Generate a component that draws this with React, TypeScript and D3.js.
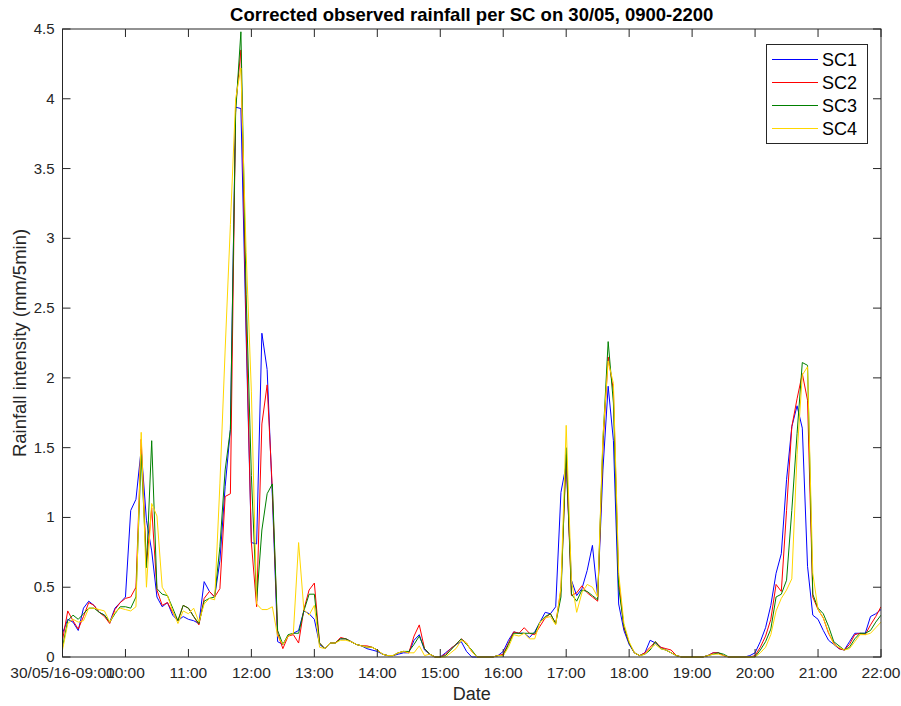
import React from "react";
import * as d3 from "d3";

const seriesNames = ["SC1", "SC2", "SC3", "SC4"];
const seriesColors = ["#0000ff", "#ff0000", "#008000", "#ffd700"];

const sc1 = [0.17,0.27,0.25,0.19,0.35,0.40,0.37,0.32,0.30,0.25,0.35,0.39,0.43,1.05,1.13,1.49,0.98,0.76,0.43,0.36,0.39,0.30,0.26,0.29,0.27,0.26,0.24,0.54,0.47,0.43,0.69,1.22,1.63,3.94,3.93,2.3,0.82,0.81,2.32,2.06,1.15,0.11,0.09,0.15,0.17,0.19,0.33,0.31,0.27,0.09,0.06,0.10,0.10,0.13,0.13,0.11,0.09,0.08,0.06,0.05,0.04,0.02,0.01,0.01,0.02,0.03,0.03,0.12,0.16,0.05,0.02,0,0,0.03,0.06,0.09,0.11,0.04,0,0,0,0,0,0.01,0.04,0.12,0.18,0.17,0.17,0.14,0.18,0.25,0.32,0.31,0.36,1.18,1.38,0.55,0.44,0.49,0.62,0.80,0.43,1.34,1.94,1.55,0.38,0.19,0.09,0.03,0.01,0.03,0.12,0.10,0.07,0.05,0.03,0.01,0,0,0,0,0,0.01,0.03,0.03,0.01,0,0,0,0,0.01,0.03,0.11,0.21,0.37,0.60,0.74,1.27,1.65,1.80,1.64,0.65,0.30,0.27,0.19,0.12,0.09,0.06,0.05,0.11,0.17,0.17,0.17,0.29,0.31,0.34];
const sc2 = [0.12,0.33,0.26,0.20,0.29,0.39,0.37,0.32,0.29,0.24,0.34,0.39,0.42,0.43,0.50,1.56,0.66,1.07,0.48,0.37,0.39,0.32,0.26,0.37,0.35,0.29,0.23,0.42,0.47,0.43,0.49,1.15,1.17,3.95,4.35,2.4,0.82,0.36,1.67,1.95,1.20,0.17,0.06,0.15,0.16,0.10,0.34,0.48,0.53,0.10,0.06,0.10,0.10,0.14,0.13,0.11,0.09,0.08,0.08,0.07,0.05,0.02,0.01,0.01,0.03,0.04,0.03,0.15,0.23,0.06,0.02,0,0,0.02,0.06,0.09,0.13,0.10,0.04,0,0,0,0,0.01,0.02,0.10,0.18,0.17,0.21,0.17,0.16,0.22,0.28,0.31,0.24,0.48,1.45,0.44,0.46,0.51,0.46,0.43,0.40,1.51,2.15,1.91,0.55,0.21,0.10,0.03,0.01,0.03,0.07,0.11,0.07,0.06,0.05,0.01,0,0,0,0,0,0.01,0.03,0.03,0.01,0,0,0,0,0,0.01,0.07,0.15,0.27,0.52,0.47,1.05,1.65,1.85,2.03,1.84,0.43,0.34,0.28,0.17,0.10,0.06,0.05,0.09,0.16,0.17,0.16,0.23,0.29,0.36];
const sc3 = [0.07,0.26,0.30,0.27,0.31,0.35,0.35,0.32,0.30,0.25,0.31,0.36,0.36,0.35,0.43,1.45,0.64,1.55,0.49,0.45,0.44,0.35,0.26,0.37,0.35,0.29,0.24,0.40,0.42,0.43,0.79,1.34,1.63,3.9,4.48,2.6,1.3,0.40,0.91,1.17,1.24,0.19,0.09,0.16,0.17,0.17,0.33,0.45,0.45,0.10,0.06,0.10,0.10,0.13,0.13,0.11,0.09,0.08,0.07,0.07,0.05,0.02,0.01,0.01,0.03,0.04,0.04,0.09,0.15,0.06,0.02,0,0,0.01,0.05,0.09,0.13,0.09,0.05,0,0,0,0,0.01,0.01,0.09,0.17,0.17,0.17,0.17,0.17,0.25,0.29,0.31,0.24,0.43,1.50,0.45,0.40,0.48,0.47,0.44,0.41,1.55,2.26,1.82,0.50,0.22,0.10,0.03,0.01,0.02,0.05,0.11,0.06,0.05,0.03,0.01,0,0,0,0,0,0.01,0.02,0.03,0.02,0,0,0,0,0,0,0.05,0.11,0.20,0.43,0.45,0.55,1.05,1.60,2.11,2.09,0.45,0.35,0.31,0.22,0.11,0.08,0.05,0.07,0.13,0.17,0.17,0.19,0.25,0.30];
const sc4 = [0.05,0.24,0.27,0.25,0.26,0.35,0.35,0.34,0.33,0.25,0.32,0.35,0.34,0.33,0.36,1.61,0.50,1.10,1.01,0.50,0.44,0.33,0.24,0.33,0.31,0.35,0.25,0.38,0.42,0.41,1.24,2.2,3.1,4.0,4.22,2.9,1.9,0.38,0.34,0.34,0.36,0.15,0.09,0.15,0.17,0.82,0.34,0.30,0.37,0.07,0.06,0.10,0.10,0.12,0.12,0.11,0.09,0.08,0.07,0.07,0.05,0.02,0.01,0.01,0.03,0.04,0.03,0.03,0.08,0.01,0.02,0,0,0,0.03,0.06,0.12,0.10,0.04,0,0,0,0,0.01,0.01,0.07,0.16,0.15,0.17,0.13,0.13,0.25,0.28,0.29,0.23,0.50,1.66,0.55,0.32,0.46,0.52,0.50,0.43,1.58,2.12,1.96,0.60,0.24,0.11,0.03,0.01,0.02,0.06,0.09,0.06,0.05,0.03,0.01,0,0,0,0,0,0.01,0.02,0.02,0.01,0,0,0,0,0,0,0.03,0.07,0.16,0.33,0.42,0.48,0.56,1.45,2.02,2.08,0.60,0.34,0.28,0.18,0.09,0.07,0.05,0.06,0.11,0.16,0.16,0.17,0.21,0.25];

const yTicks = [0, 0.5, 1, 1.5, 2, 2.5, 3, 3.5, 4, 4.5];
const yTickLabels = ["0", "0.5", "1", "1.5", "2", "2.5", "3", "3.5", "4", "4.5"];
const xTickHours = [9, 10, 11, 12, 13, 14, 15, 16, 17, 18, 19, 20, 21, 22];
const xTickLabels = ["30/05/16-09:00", "10:00", "11:00", "12:00", "13:00", "14:00", "15:00", "16:00", "17:00", "18:00", "19:00", "20:00", "21:00", "22:00"];

const title = "Corrected observed rainfall per SC on 30/05, 0900-2200";
const xLabel = "Date";
const yLabel = "Rainfall intensity (mm/5min)";

const W = 901, H = 706;
const L = 62.5, R = 881, T = 29, B = 657;
const FONT = "'Liberation Sans', Arial, Helvetica, sans-serif";

export default function App() {
  const start = new Date(2016, 4, 30, 9, 0);
  const end = new Date(2016, 4, 30, 22, 0);
  const x = d3.scaleTime().domain([start, end]).range([L, R]);
  const y = d3.scaleLinear().domain([0, 4.5]).range([B, T]);
  const timeOf = (i: number) => new Date(start.getTime() + i * 5 * 60000);
  const line = d3
    .line<number>()
    .x((_, i) => x(timeOf(i)))
    .y((d) => y(d));
  const all = [sc1, sc2, sc3, sc4];
  const tickLen = 8;
  const axisColor = "#262626";

  return (
    <svg
      width={W}
      height={H}
      style={{ position: "absolute", left: 0, top: 0, background: "#fff" }}
      fontFamily={FONT}
    >
      <rect x={0} y={0} width={W} height={H} fill="#fff" />
      <defs>
        <clipPath id="plotclip">
          <rect x={L} y={T - 1} width={R - L} height={B - T + 2} />
        </clipPath>
      </defs>
      <g clipPath="url(#plotclip)">
        {all.map((s, k) => (
          <path
            key={k}
            d={line(s) || ""}
            fill="none"
            stroke={seriesColors[k]}
            strokeWidth={1}
            strokeLinejoin="round"
          />
        ))}
      </g>
      <rect x={L} y={T} width={R - L} height={B - T} fill="none" stroke={axisColor} strokeWidth={1} />
      {xTickHours.map((h, k) => {
        const xp = x(new Date(2016, 4, 30, h, 0));
        return (
          <g key={"xt" + k}>
            <line x1={xp} x2={xp} y1={B} y2={B - tickLen} stroke={axisColor} />
            <line x1={xp} x2={xp} y1={T} y2={T + tickLen} stroke={axisColor} />
            <text x={xp} y={B + 21} textAnchor="middle" fontSize={15.5} fill="#262626">
              {xTickLabels[k]}
            </text>
          </g>
        );
      })}
      {yTicks.map((v, k) => {
        const yp = y(v);
        return (
          <g key={"yt" + k}>
            <line x1={L} x2={L + tickLen} y1={yp} y2={yp} stroke={axisColor} />
            <line x1={R} x2={R - tickLen} y1={yp} y2={yp} stroke={axisColor} />
            <text x={L - 8} y={yp + 5} textAnchor="end" fontSize={15} fill="#262626">
              {yTickLabels[k]}
            </text>
          </g>
        );
      })}
      <text x={(L + R) / 2} y={21} textAnchor="middle" fontSize={18.5} fontWeight="bold" fill="#000">
        {title}
      </text>
      <text x={(L + R) / 2} y={700} textAnchor="middle" fontSize={18} fill="#262626">
        {xLabel}
      </text>
      <text
        transform={`translate(26, ${(T + B) / 2}) rotate(-90)`}
        textAnchor="middle"
        fontSize={18.5}
        fill="#262626"
      >
        {yLabel}
      </text>
      <g>
        <rect x={766.5} y={44.5} width={101} height={99} fill="#fff" stroke={axisColor} strokeWidth={1} />
        {seriesNames.map((n, k) => {
          const yy = 59.5 + k * 23;
          return (
            <g key={"lg" + k}>
              <line x1={772} x2={818} y1={yy} y2={yy} stroke={seriesColors[k]} strokeWidth={1} />
              <text x={822} y={yy + 6} fontSize={18} fill="#000">
                {n}
              </text>
            </g>
          );
        })}
      </g>
    </svg>
  );
}
